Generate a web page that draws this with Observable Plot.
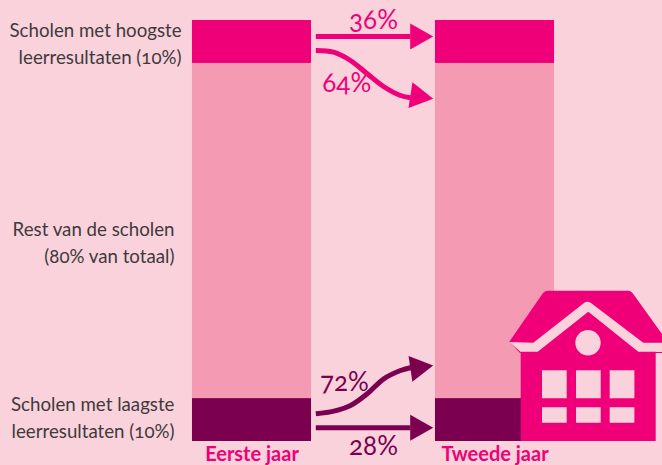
<!DOCTYPE html>
<html><head><meta charset="utf-8">
<script src="https://cdn.jsdelivr.net/npm/d3@7"></script>
<script src="https://cdn.jsdelivr.net/npm/@observablehq/plot@0.6"></script>
<style>
html,body{margin:0;padding:0;background:#f9d2db;overflow:hidden}
svg{display:block}
text{font-variant-numeric:oldstyle-nums;font-feature-settings:"onum"}
</style></head><body>
<script>
const years = [1, 2];
const yearNames = ["Eerste jaar", "Tweede jaar"];
const bandFrom = [0, 10.2, 89.8];
const bandTo = [10.2, 89.8, 100];
const bandColors = ["#7b0050", "#f49ab3", "#ef0078"];
const bandLabels = ["Scholen met laagste\nleerresultaten (10%)", "Rest van de scholen\n(80% van totaal)", "Scholen met hoogste\nleerresultaten (10%)"];
const labelX = [0.681, 0.681, 0.71];
const labelY = [6.2, 47.7, 95];
const halfBar = 0.245;

const flowLabels = ["36%", "64%", "72%", "28%"];
const flowColors = ["#ef0078", "#ef0078", "#7b0050", "#7b0050"];
const flowShaftX = [
  [1.2626, 1.652],
  [1.2626, 1.3354, 1.4053, 1.4741, 1.5412, 1.6111, 1.6523],
  [1.2626, 1.3366, 1.4053, 1.4741, 1.5424, 1.6111, 1.6593],
  [1.2626, 1.652]
];
const flowShaftY = [
  [96.2, 96.2],
  [92.87, 92.47, 90.5, 87.34, 84.32, 82.18, 81.64],
  [6.58, 7.2, 8.55, 11.33, 14.89, 16.86, 17.65],
  [3.25, 3.25]
];
const flowTipX = [1.7457, 1.7457, 1.7457, 1.7457];
const flowTipY = [96.2, 81.4, 18.05, 3.25];
const flowRotate = [0, 9, -8.5, 0];
const flowLabelX = [1.5, 1.39, 1.38, 1.5];
const flowLabelY = [100, 85, 14, -1.3];

const bands = years.flatMap(yr => bandFrom.map((_, i) => ({yr, y1: bandFrom[i], y2: bandTo[i], c: bandColors[i]})));
const labels = bandLabels.map((t, i) => ({t, x: labelX[i], y: labelY[i]}));
const flows = flowLabels.map((t, i) => ({t, c: flowColors[i], x: flowLabelX[i], y: flowLabelY[i], tx: flowTipX[i], ty: flowTipY[i], r: flowRotate[i]}));
const shafts = flowLabels.flatMap((t, i) => flowShaftX[i].map((x, j) => ({id: t, c: flowColors[i], x, y: flowShaftY[i][j]})));
const arrowHead = {draw(ctx) { ctx.moveTo(0, 0); ctx.lineTo(-23, -13); ctx.lineTo(-23, 13); ctx.closePath(); }};

// Decorative school icon
const pink = "#ef0078", bg = "#f9d2db";
const housePaths = [
  {d: "M509.3,341.7 L543,293 Q545,290.7 548,290.7 L628,290.7 Q630.7,290.7 632.5,293 L670,345 L670,353 L520,353 Z", f: pink},
  {d: "M509.3,342 L533.3,342.7 L584,303 Q587.5,300.7 591,303 L643.3,342.7 L670,342.7 L670,352 L520.7,352 Z", f: bg},
  {d: "M520.7,351.7 L537.7,351.7 L588.3,311.7 L638.3,351.7 L655.7,351.7 L655.7,441 L520.7,441 Z", f: pink},
  {d: "M542,370.3h24.7v28h-24.7z M576,370.3h24.7v28h-24.7z M609.7,370.3h24.7v28h-24.7z M542,407.3h24.7v15.4h-24.7z M576,407.3h24.7v15.4h-24.7z M609.7,407.3h24.7v15.4h-24.7z M600.7,342.7a12.7,12.7 0 1,1 -25.4,0a12.7,12.7 0 1,1 25.4,0z", f: bg}
];
const house = () => {
  const g = d3.create("svg:g");
  g.selectAll("path").data(housePaths).join("path").attr("d", d => d.d).attr("fill", d => d.f);
  return g.node();
};

const chart = Plot.plot({
  width: 662, height: 465,
  marginTop: 20, marginRight: 0, marginBottom: 24, marginLeft: 0,
  x: {domain: [1, 2], range: [251.5, 494.5], axis: null},
  y: {domain: [0, 100], range: [441, 20], axis: null},
  style: {background: bg, fontFamily: "Lato, 'Open Sans', sans-serif"},
  marks: [
    Plot.rect(bands, {x1: d => d.yr - halfBar, x2: d => d.yr + halfBar, y1: "y1", y2: "y2", fill: d => d.c}),
    Plot.line(shafts, {x: "x", y: "y", z: "id", stroke: "c", strokeWidth: 5, curve: "catmull-rom", strokeLinecap: "butt"}),
    Plot.dot(flows, {x: "tx", y: "ty", rotate: "r", fill: "c", r: 5, symbol: arrowHead}),
    Plot.text(flows, {x: "x", y: "y", text: "t", fill: "c", fontSize: 26, fontWeight: 400}),
    Plot.text(labels, {x: "x", y: "y", text: "t", textAnchor: "end", fill: "#3f3a3c", fontSize: 18.7, fontWeight: 400, lineHeight: 1.45}),
    Plot.axisX({ticks: years, tickFormat: d => yearNames[d - 1], tickSize: 0, tickPadding: 5, fontSize: 20, fontWeight: 700, fill: pink, label: null}),
    house
  ]
});
document.body.append(chart);
</script>
</body></html>
